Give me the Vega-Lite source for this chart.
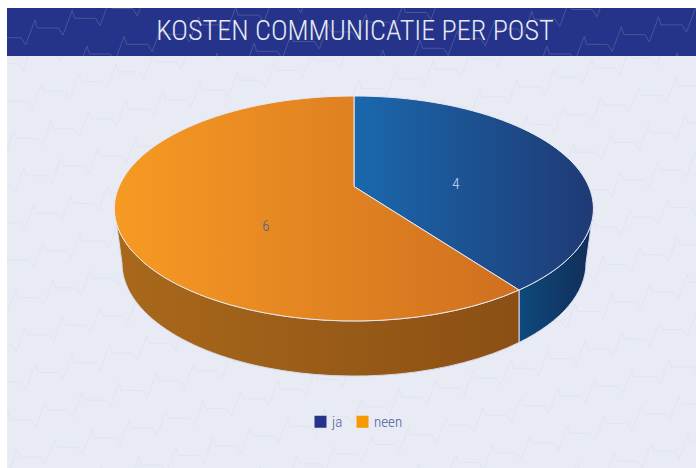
{
"$schema":"https://vega.github.io/schema/vega-lite/v6.json",
"padding":{"left":7,"top":8,"right":0,"bottom":0},
"background":"#ffffff",
"spacing":0,
"config":{"view":{"stroke":null}},
"datasets":{
"chart":[{"answer":"ja","count":4},{"answer":"neen","count":6}],
"headline":[{"label":"KOSTEN COMMUNICATIE PER POST"}],
"bannerChains":[{"x":-37,"y":47.4},{"x":15,"y":73.4},{"x":145,"y":80.4},{"x":311,"y":77.4},{"x":475,"y":73.4},{"x":605,"y":80.4}],
"panelChains":[{"x":-2.8,"y":63.6},{"x":-30.3,"y":110.7},{"x":-20.6,"y":148.1},{"x":-10.9,"y":185.5},{"x":-1.2,"y":222.9},{"x":-28.7,"y":270},{"x":-19,"y":307.4},{"x":-9.3,"y":344.8},{"x":0.4,"y":382.2},{"x":-27.1,"y":429.3},{"x":-17.4,"y":466.7},{"x":-7.7,"y":504.1},{"x":2,"y":541.5},{"x":-25.5,"y":588.6},{"x":-15.8,"y":626},{"x":-6.1,"y":663.4}]
},
"vconcat":[
{"width":689,"height":48,"view":{"fill":"#25338a","stroke":null},
"layer":[
{"data":{"name":"bannerChains"},
"mark":{"type":"point","clip":true,"filled":false,"opacity":1,"size":4,"stroke":"#4a5596","strokeWidth":1,"shape":"M0 0h21l4.5 7.3l9.3 -25l2.4 8h21l4.5 7.3l9.3 -25l2.4 8h21l4.5 7.3l9.3 -25l2.4 8h21l4.5 7.3l9.3 -25l2.4 8h21l4.5 7.3l9.3 -25l2.4 8h21l4.5 7.3l9.3 -25l2.4 8h21l4.5 7.3l9.3 -25l2.4 8h21l4.5 7.3l9.3 -25l2.4 8"},
"encoding":{"x":{"field":"x","type":"quantitative","axis":null,"scale":{"domain":[7,696],"nice":false,"zero":false}},"y":{"field":"y","type":"quantitative","axis":null,"scale":{"domain":[56,8],"nice":false,"zero":false}}}},
{"data":{"name":"headline"},
"mark":{"type":"text","font":"Roboto Condensed, Open Sans Condensed, Liberation Sans Narrow, Roboto","fontWeight":300,"fontSize":28.2,"color":"#e6e9f4","align":"center","baseline":"middle"},
"encoding":{"text":{"field":"label"},"x":{"datum":355,"type":"quantitative","axis":null,"scale":{"domain":[7,696],"nice":false,"zero":false}},"y":{"datum":32,"type":"quantitative","axis":null,"scale":{"domain":[56,8],"nice":false,"zero":false}}}}
]},
{"width":689,"height":412,"view":{"fill":"#e8ebf4","stroke":null},
"layer":[
{"data":{"name":"panelChains"},
"mark":{"type":"point","clip":true,"filled":false,"opacity":1,"size":4,"stroke":"#e0e3ef","strokeWidth":0.9,"shape":"M0 0h21l4.5 7.3l9.3 -25l2.4 8h21l4.5 7.3l9.3 -25l2.4 8h21l4.5 7.3l9.3 -25l2.4 8h21l4.5 7.3l9.3 -25l2.4 8h21l4.5 7.3l9.3 -25l2.4 8h21l4.5 7.3l9.3 -25l2.4 8h21l4.5 7.3l9.3 -25l2.4 8h21l4.5 7.3l9.3 -25l2.4 8h21l4.5 7.3l9.3 -25l2.4 8h21l4.5 7.3l9.3 -25l2.4 8h21l4.5 7.3l9.3 -25l2.4 8h21l4.5 7.3l9.3 -25l2.4 8h21l4.5 7.3l9.3 -25l2.4 8h21l4.5 7.3l9.3 -25l2.4 8h21l4.5 7.3l9.3 -25l2.4 8h21l4.5 7.3l9.3 -25l2.4 8h21l4.5 7.3l9.3 -25l2.4 8h21l4.5 7.3l9.3 -25l2.4 8h21l4.5 7.3l9.3 -25l2.4 8h21l4.5 7.3l9.3 -25l2.4 8"},
"encoding":{"x":{"field":"x","type":"quantitative","axis":null,"scale":{"domain":[7,696],"nice":false,"zero":false}},"y":{"field":"y","type":"quantitative","axis":null,"scale":{"domain":[468,56],"nice":false,"zero":false}}}},
{"data":{"name":"chart"},
"mark":{"type":"point","filled":true,"opacity":1,"size":0,"shape":"square"},
"encoding":{"x":{"datum":354,"type":"quantitative","axis":null,"scale":{"domain":[7,696],"nice":false,"zero":false}},"y":{"datum":208.5,"type":"quantitative","axis":null,"scale":{"domain":[468,56],"nice":false,"zero":false}},
"fill":{"field":"answer","type":"nominal","scale":{"domain":["ja","neen"],"range":["#25338a","#f59a00"]},
"legend":{"title":null,"orient":"none","legendX":306,"legendY":406,"direction":"horizontal","columns":2,"padding":0,"columnPadding":12,"symbolType":"square","symbolSize":144,"symbolStrokeWidth":0,"labelFont":"Roboto Condensed, Open Sans Condensed, Liberation Sans Narrow, Roboto","labelFontSize":15,"labelFontWeight":300,"labelColor":"#4f5ba0","labelOffset":4}}}},
{"data":{"name":"chart"},"transform":[{"filter":"datum.answer==='ja'"}],
"mark":{"type":"point","filled":true,"opacity":1,"size":4,"stroke":"#d5d9ea","strokeWidth":1,"fill":{"gradient":"linear","x1":0,"x2":1,"y1":0,"y2":0,"stops":[{"offset":0,"color":"#0d4a7c"},{"offset":1,"color":"#122c58"}]},"shape":"M165 81.5A239.5 112.5 0 0 0 239.5 0L232 54.5A232 113 0 0 1 165 134Z"},
"encoding":{"x":{"datum":354,"type":"quantitative","axis":null,"scale":{"domain":[7,696],"nice":false,"zero":false}},"y":{"datum":208.5,"type":"quantitative","axis":null,"scale":{"domain":[468,56],"nice":false,"zero":false}}}},
{"data":{"name":"chart"},"transform":[{"filter":"datum.answer==='neen'"}],
"mark":{"type":"point","filled":true,"opacity":1,"size":4,"stroke":"#d5d9ea","strokeWidth":1,"fill":{"gradient":"linear","x1":0,"x2":1,"y1":0,"y2":0,"stops":[{"offset":0,"color":"#a9691b"},{"offset":1,"color":"#8b4f14"}]},"shape":"M-239.5 0A239.5 112.5 0 0 0 165 81.5L165 134A232 113 0 0 1 -232 54.5Z"},
"encoding":{"x":{"datum":354,"type":"quantitative","axis":null,"scale":{"domain":[7,696],"nice":false,"zero":false}},"y":{"datum":208.5,"type":"quantitative","axis":null,"scale":{"domain":[468,56],"nice":false,"zero":false}}}},
{"data":{"name":"chart"},"transform":[{"filter":"datum.answer==='ja'"}],
"mark":{"type":"point","filled":true,"opacity":1,"size":4,"stroke":"#e6e8f2","strokeWidth":1,"fill":{"gradient":"linear","x1":0,"x2":1,"y1":0,"y2":0,"stops":[{"offset":0,"color":"#1a68ad"},{"offset":1,"color":"#1f3a75"}]},"shape":"M0 -22L0 -112.5A239.5 112.5 0 0 1 165 81.5Z"},
"encoding":{"x":{"datum":354,"type":"quantitative","axis":null,"scale":{"domain":[7,696],"nice":false,"zero":false}},"y":{"datum":208.5,"type":"quantitative","axis":null,"scale":{"domain":[468,56],"nice":false,"zero":false}}}},
{"data":{"name":"chart"},"transform":[{"filter":"datum.answer==='neen'"}],
"mark":{"type":"point","filled":true,"opacity":1,"size":4,"stroke":"#e6e8f2","strokeWidth":1,"fill":{"gradient":"linear","x1":0,"x2":1,"y1":0,"y2":0,"stops":[{"offset":0,"color":"#f79a23"},{"offset":1,"color":"#cf6f20"}]},"shape":"M0 -22L165 81.5A239.5 112.5 0 1 1 0 -112.5Z"},
"encoding":{"x":{"datum":354,"type":"quantitative","axis":null,"scale":{"domain":[7,696],"nice":false,"zero":false}},"y":{"datum":208.5,"type":"quantitative","axis":null,"scale":{"domain":[468,56],"nice":false,"zero":false}}}},
{"data":{"name":"chart"},"transform":[{"filter":"datum.answer==='ja'"}],
"mark":{"type":"text","font":"Roboto Condensed, Open Sans Condensed, Liberation Sans Narrow, Roboto","fontSize":15,"fontWeight":300,"color":"#cfd6ea","align":"center","baseline":"middle"},
"encoding":{"text":{"field":"count","type":"quantitative"},"x":{"datum":456,"type":"quantitative","axis":null,"scale":{"domain":[7,696],"nice":false,"zero":false}},"y":{"datum":184,"type":"quantitative","axis":null,"scale":{"domain":[468,56],"nice":false,"zero":false}}}},
{"data":{"name":"chart"},"transform":[{"filter":"datum.answer==='neen'"}],
"mark":{"type":"text","font":"Roboto Condensed, Open Sans Condensed, Liberation Sans Narrow, Roboto","fontSize":15,"fontWeight":300,"color":"#4a5a9e","align":"center","baseline":"middle"},
"encoding":{"text":{"field":"count","type":"quantitative"},"x":{"datum":266,"type":"quantitative","axis":null,"scale":{"domain":[7,696],"nice":false,"zero":false}},"y":{"datum":226,"type":"quantitative","axis":null,"scale":{"domain":[468,56],"nice":false,"zero":false}}}}
]}
]}
